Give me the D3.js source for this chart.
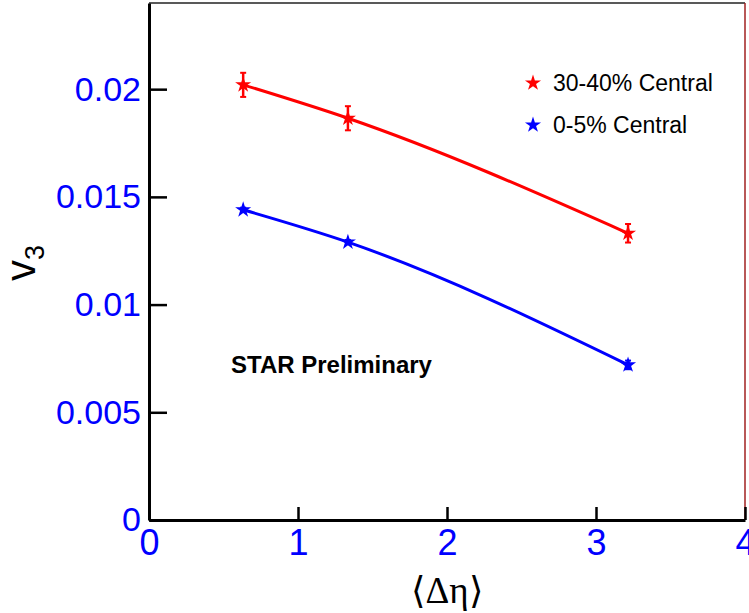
<!DOCTYPE html>
<html>
<head>
<meta charset="utf-8">
<script src="https://cdn.jsdelivr.net/npm/d3@7"></script>
<style>
  html, body { margin: 0; padding: 0; background: #fff; }
  svg { display: block; }
</style>
</head>
<body>
<svg id="chart" width="749" height="613"></svg>
<script>
// <Δη> of the three pseudorapidity-gap bins
const deltaEta = [0.632, 1.335, 3.215];
// v3 for the 30-40% centrality class, with statistical errors
const v3Mid = [0.0202, 0.01865, 0.01331];
const v3MidErr = [0.00056, 0.00056, 0.00043];
// v3 for the 0-5% centrality class, with statistical errors
const v3Central = [0.01440, 0.01290, 0.00720];
const v3CentralErr = [0.00010, 0.00010, 0.00020];

const xTicks = [0, 1, 2, 3, 4];
const yTicks = [0, 0.005, 0.01, 0.015, 0.02];
const yTickLabels = ["0", "0.005", "0.01", "0.015", "0.02"];

const seriesNames = ["30-40% Central", "0-5% Central"];
const seriesColors = ["#ff0000", "#0000ff"];

const svg = d3.select("#chart");
const margin = { left: 149, right: 4, top: 3, bottom: 93 };
const W = 749, H = 613;

const x = d3.scaleLinear().domain([0, 4]).range([margin.left, W - margin.right]);
const y = d3.scaleLinear().domain([0, 0.024]).range([H - margin.bottom, margin.top]);

// frame: thin top and right edges
svg.append("line")
  .attr("x1", x(0)).attr("x2", x(4)).attr("y1", y(0.024)).attr("y2", y(0.024))
  .attr("stroke", "#222").attr("stroke-width", 1.5);
svg.append("line")
  .attr("x1", x(4)).attr("x2", x(4)).attr("y1", y(0.024)).attr("y2", y(0))
  .attr("stroke", "#a02020").attr("stroke-width", 1.5);

// y axis with inward ticks
const yAxis = svg.append("g")
  .attr("transform", `translate(${x(0)},0)`)
  .call(d3.axisLeft(y).tickValues(yTicks)
    .tickFormat((d, i) => yTickLabels[i])
    .tickSizeInner(-18).tickSizeOuter(0).tickPadding(8));
yAxis.select(".domain").attr("stroke", "#000").attr("stroke-width", 3);
yAxis.selectAll(".tick line").attr("stroke", "#000").attr("stroke-width", 2.5);
yAxis.selectAll(".tick text")
  .attr("fill", "#0000ff")
  .style("font-family", "'Liberation Sans', Arial, sans-serif")
  .style("font-size", "34px");

// x axis with inward ticks
const xAxis = svg.append("g")
  .attr("transform", `translate(0,${y(0)})`)
  .call(d3.axisBottom(x).tickValues(xTicks)
    .tickFormat(d3.format("d"))
    .tickSizeInner(-13).tickSizeOuter(0).tickPadding(9));
xAxis.select(".domain").attr("stroke", "#000").attr("stroke-width", 3);
xAxis.selectAll(".tick line").attr("stroke", "#000").attr("stroke-width", 2.5);
xAxis.selectAll(".tick text")
  .attr("fill", "#0000ff")
  .style("font-family", "'Liberation Sans', Arial, sans-serif")
  .style("font-size", "36px");

// axis titles
svg.append("text")
  .attr("x", (x(0) + x(4)) / 2).attr("y", 603)
  .attr("text-anchor", "middle")
  .style("font-family", "'Liberation Serif', 'Times New Roman', serif")
  .style("font-size", "37px")
  .text("\u27E8\u0394\u03B7\u27E9");

const yTitle = svg.append("text")
  .attr("transform", "translate(35,281) rotate(-90)")
  .style("font-family", "'Liberation Sans', Arial, sans-serif")
  .style("font-size", "42px");
yTitle.append("tspan").text("v");
yTitle.append("tspan").attr("dy", 9).style("font-size", "27px").text("3");

// series: smooth curve, error bars and star markers
const series = [
  { vals: v3Mid, errs: v3MidErr, color: seriesColors[0] },
  { vals: v3Central, errs: v3CentralErr, color: seriesColors[1] }
];
const line = d3.line().x(d => x(d[0])).y(d => y(d[1])).curve(d3.curveMonotoneX);
const star = d3.symbol().type(d3.symbolStar).size(80);

series.forEach(s => {
  const pts = deltaEta.map((d, i) => [d, s.vals[i], s.errs[i]]);
  svg.append("path")
    .attr("d", line(pts))
    .attr("fill", "none")
    .attr("stroke", s.color)
    .attr("stroke-width", 3);
  const g = svg.append("g");
  pts.forEach(p => {
    const cx = x(p[0]);
    g.append("line")
      .attr("x1", cx).attr("x2", cx)
      .attr("y1", y(p[1] - p[2])).attr("y2", y(p[1] + p[2]))
      .attr("stroke", s.color).attr("stroke-width", 2.5);
    [p[1] - p[2], p[1] + p[2]].forEach(v => {
      g.append("line")
        .attr("x1", cx - 3).attr("x2", cx + 3)
        .attr("y1", y(v)).attr("y2", y(v))
        .attr("stroke", s.color).attr("stroke-width", 2);
    });
    g.append("path")
      .attr("d", star())
      .attr("transform", `translate(${cx},${y(p[1])})`)
      .attr("fill", s.color);
  });
});

// legend
const legend = svg.append("g");
seriesNames.forEach((name, i) => {
  const ly = 83 + i * 42;
  legend.append("path")
    .attr("d", d3.symbol().type(d3.symbolStar).size(80)())
    .attr("transform", `translate(533,${ly})`)
    .attr("fill", seriesColors[i]);
  legend.append("text")
    .attr("x", 553).attr("y", ly + 8)
    .style("font-family", "'Liberation Sans', Arial, sans-serif")
    .style("font-size", "23px")
    .text(name);
});

// annotation
svg.append("text")
  .attr("x", 231).attr("y", 373)
  .style("font-family", "'Liberation Sans', Arial, sans-serif")
  .style("font-size", "24px")
  .style("font-weight", "bold")
  .text("STAR Preliminary");
</script>
</body>
</html>
